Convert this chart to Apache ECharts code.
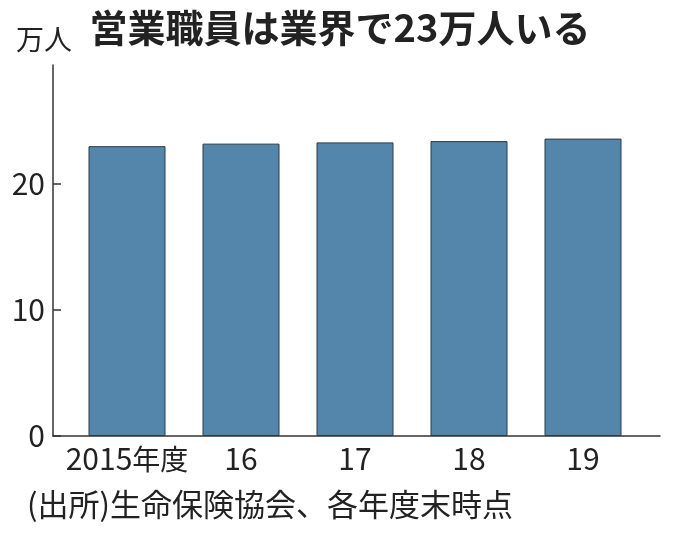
<!DOCTYPE html>
<html><head><meta charset="utf-8">
<script src="https://cdn.jsdelivr.net/npm/echarts@6/dist/echarts.min.js"></script>
<style>html,body{margin:0;padding:0;background:#fff;}#c{width:680px;height:537px;}</style>
</head><body><div id="c"></div>
<script>
const categories = ['2015', '16', '17', '18', '19'];
const staff = [23.0, 23.2, 23.3, 23.4, 23.6];
const yTicks = [0, 10, 20];
const titleText = '営業職員は業界で23万人いる';
const unitText = '万人';
const sourceText = '(出所)生命保険協会、各年度末時点';

const numFont = '"Liberation Sans Narrow", "Noto Sans CJK JP", sans-serif';
const cjkFont = '"Noto Sans CJK JP", sans-serif';
const chart = echarts.init(document.getElementById('c'), null, {renderer: 'canvas'});
chart.setOption({
  animation: false,
  backgroundColor: '#fff',
  grid: [
    {left: 70, right: 40, top: 65, bottom: 101},
    {left: 53, right: 20, top: 65, bottom: 101}
  ],
  xAxis: [
    {
      type: 'category', gridIndex: 0, data: categories,
      axisLine: {show: false}, axisTick: {show: false},
      axisLabel: {
        margin: 8,
        formatter: (v, i) => i === 0 ? '{n|' + v + '}{c|年度}' : '{n|' + v + '}',
        rich: {
          n: {fontFamily: numFont, fontSize: 30, color: '#222'},
          c: {fontFamily: cjkFont, fontSize: 28, color: '#222'}
        }
      }
    },
    {
      type: 'value', gridIndex: 1, min: 0, max: 1,
      axisLine: {show: true, onZero: false, lineStyle: {color: '#333', width: 1.5}},
      axisTick: {show: false}, axisLabel: {show: false}, splitLine: {show: false}
    }
  ],
  yAxis: [
    {
      type: 'value', gridIndex: 0, min: 0, max: 29.44, interval: 10, offset: 17,
      axisLine: {show: true, lineStyle: {color: '#333', width: 1.5}},
      axisTick: {show: true, inside: true, length: 8, customValues: yTicks, lineStyle: {color: '#333', width: 1.5}},
      axisLabel: {customValues: yTicks, margin: 8, fontFamily: numFont, fontSize: 30, color: '#222'},
      splitLine: {show: false}
    },
    {type: 'value', gridIndex: 1, show: false, min: 0, max: 1}
  ],
  series: [{
    type: 'bar', xAxisIndex: 0, yAxisIndex: 0, data: staff, barWidth: 77,
    itemStyle: {color: '#5386aa', borderColor: '#2b3a46', borderWidth: 1}
  }],
  graphic: [
    {type: 'text', left: 'center', top: 9, style: {text: titleText, font: 'bold 38px "Noto Sans CJK JP", sans-serif', fill: '#222'}},
    {type: 'text', left: 16, top: 25, style: {text: unitText, font: '28px "Noto Sans CJK JP", sans-serif', fill: '#222'}},
    {type: 'text', left: 27, top: 489, style: {text: sourceText, font: '31px "Noto Sans CJK JP", sans-serif', fill: '#222'}}
  ]
});
</script></body></html>
